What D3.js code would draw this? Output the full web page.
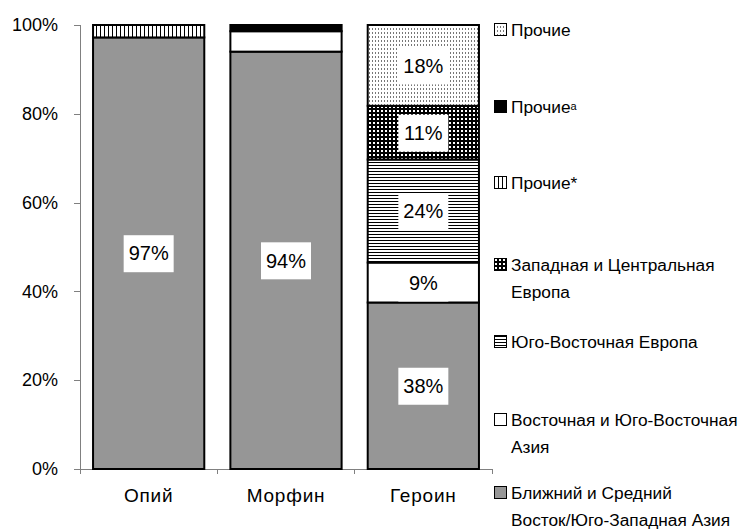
<!DOCTYPE html>
<html lang="ru">
<head>
    <meta charset="UTF-8">
    <title>Структура изъятий</title>
    <script src="https://cdnjs.cloudflare.com/ajax/libs/d3/7.8.5/d3.min.js"></script>
    <style>
        body { margin: 0; background: #fff; }
        text { font-family: Arial, "Liberation Sans", sans-serif; fill: #000; }
        .axis path, .axis line { stroke: #808080; shape-rendering: crispEdges; }
        .axis text { font-size: 18px; }
        .xaxis text { font-size: 19px; letter-spacing: 0.8px; }
    </style>
</head>
<body>
<script type="text/javascript">
    const width = 746;
    const height = 531;

    const categories = ["Опий", "Морфин", "Героин"];
    const yTicks = [0, 20, 40, 60, 80, 100];

    // series, bottom to top (%)
    const nearEast   = [97.2, 94.0, 37.5];
    const eastAsia   = [0, 4.6, 9.0];
    const seEurope   = [0, 0, 23.2];
    const westEurope = [0, 0, 12.1];
    const otherStar  = [2.8, 0, 0];
    const otherA     = [0, 1.4, 0];
    const other      = [0, 0, 18.2];

    // labels written on the bars
    const nearEastLabels   = ["97%", "94%", "38%"];
    const eastAsiaLabels   = ["", "", "9%"];
    const seEuropeLabels   = ["", "", "24%"];
    const westEuropeLabels = ["", "", "11%"];
    const otherLabels      = ["", "", "18%"];

    const series = [
        {key: "nearEast", values: nearEast, labels: nearEastLabels, fill: "#969696",
         name: ["Ближний и Средний", "Восток/Юго-Западная Азия"]},
        {key: "eastAsia", values: eastAsia, labels: eastAsiaLabels, fill: "#fff",
         name: ["Восточная и Юго-Восточная", "Азия"]},
        {key: "seEurope", values: seEurope, labels: seEuropeLabels, fill: "url(#hlines)",
         name: ["Юго-Восточная Европа"]},
        {key: "westEurope", values: westEurope, labels: westEuropeLabels, fill: "url(#checker)",
         name: ["Западная и Центральная", "Европа"]},
        {key: "otherStar", values: otherStar, labels: null, fill: "url(#vlines)",
         name: ["Прочие*"]},
        {key: "otherA", values: otherA, labels: null, fill: "#000",
         name: ["Прочие"], sup: "a"},
        {key: "other", values: other, labels: otherLabels, fill: "url(#dots)",
         name: ["Прочие"]}
    ];

    const table = categories.map(function(c, i) {
        const row = {category: c};
        series.forEach(function(s) { row[s.key] = s.values[i]; });
        return row;
    });

    const stacked = d3.stack().keys(series.map(s => s.key))(table);

    const x = d3.scaleBand()
        .domain(categories)
        .range([80, 492])
        .paddingInner(0.19)
        .paddingOuter(0.095);
    const y = d3.scaleLinear().domain([0, 100]).range([469, 25]);

    const svg = d3.select("body").append("svg")
        .attr("width", width)
        .attr("height", height);

    // patterns
    const defs = svg.append("defs");
    const vl = defs.append("pattern").attr("id", "vlines")
        .attr("patternUnits", "userSpaceOnUse").attr("width", 4).attr("height", 4);
    vl.append("rect").attr("width", 4).attr("height", 4).attr("fill", "#fff");
    vl.append("rect").attr("x", 0).attr("width", 1).attr("height", 4).attr("fill", "#000");

    const hl = defs.append("pattern").attr("id", "hlines")
        .attr("patternUnits", "userSpaceOnUse").attr("width", 4).attr("height", 3);
    hl.append("rect").attr("width", 4).attr("height", 3).attr("fill", "#fff");
    hl.append("rect").attr("y", 0).attr("width", 4).attr("height", 1).attr("fill", "#000");

    const ck = defs.append("pattern").attr("id", "checker")
        .attr("patternUnits", "userSpaceOnUse").attr("width", 4).attr("height", 4);
    ck.append("rect").attr("width", 4).attr("height", 4).attr("fill", "#000");
    ck.append("rect").attr("x", 1).attr("y", 2).attr("width", 2).attr("height", 2).attr("fill", "#fff");

    const dt = defs.append("pattern").attr("id", "dots")
        .attr("patternUnits", "userSpaceOnUse").attr("width", 3).attr("height", 4);
    dt.append("rect").attr("width", 3).attr("height", 4).attr("fill", "#fff");
    dt.append("rect").attr("x", 0).attr("y", 0).attr("width", 1).attr("height", 2).attr("fill", "#777");

    // y axis
    svg.append("g")
        .attr("class", "axis")
        .attr("transform", "translate(80,0)")
        .call(d3.axisLeft(y).tickValues(yTicks).tickSize(6).tickPadding(16)
            .tickFormat(d => d + "%"))
        .call(g => g.select(".domain").attr("d", "M0," + y(100) + "V" + y(0)));

    // x axis
    const xAxis = svg.append("g")
        .attr("class", "axis xaxis")
        .attr("transform", "translate(0,469)")
        .call(d3.axisBottom(x).tickSize(0).tickPadding(22))
        .call(g => g.select(".domain").attr("d", "M80,0H" + (80 + 3 * x.step())));
    xAxis.selectAll(".tick text").attr("dy", "0.6em");
    xAxis.selectAll(".bound")
        .data(d3.range(categories.length + 1))
        .enter().append("line")
        .attr("x1", i => 80 + i * x.step())
        .attr("x2", i => 80 + i * x.step())
        .attr("y1", 0).attr("y2", 5);

    // bars
    const layers = svg.append("g").selectAll("g")
        .data(stacked)
        .enter().append("g")
        .attr("fill", (d, i) => series[i].fill);

    layers.selectAll("rect")
        .data(d => d.filter(p => p[1] - p[0] > 0))
        .enter().append("rect")
        .attr("x", d => x(d.data.category))
        .attr("y", d => y(d[1]))
        .attr("width", x.bandwidth())
        .attr("height", d => y(d[0]) - y(d[1]))
        .attr("stroke", "#000")
        .attr("stroke-width", 2);

    // value labels
    const labelData = [];
    stacked.forEach(function(layer, si) {
        const labs = series[si].labels;
        if (!labs) return;
        layer.forEach(function(p, ci) {
            if (labs[ci]) labelData.push({p: p, text: labs[ci]});
        });
    });
    const lab = svg.append("g").selectAll("g")
        .data(labelData)
        .enter().append("g")
        .attr("transform", d => "translate(" + (x(d.p.data.category) + x.bandwidth() / 2) + ","
            + y((d.p[0] + d.p[1]) / 2) + ")");
    lab.append("rect")
        .attr("x", -25).attr("y", -18)
        .attr("width", 50).attr("height", 37)
        .attr("fill", "#fff");
    lab.append("text")
        .attr("text-anchor", "middle")
        .attr("dy", "0.36em")
        .attr("font-size", 20)
        .text(d => d.text);

    // legend, top to bottom
    const legendRows = [
        {s: series[6], y: 30},
        {s: series[5], y: 107},
        {s: series[4], y: 183},
        {s: series[3], y: 265},
        {s: series[2], y: 342},
        {s: series[1], y: 420},
        {s: series[0], y: 493}
    ];
    const leg = svg.append("g").selectAll("g")
        .data(legendRows)
        .enter().append("g")
        .attr("transform", d => "translate(494," + d.y + ")");
    leg.append("rect")
        .attr("x", 0.5).attr("y", -6.5)
        .attr("width", 12).attr("height", 12)
        .attr("fill", d => d.s.fill)
        .attr("stroke", "#000")
        .attr("stroke-width", 1);
    const lt = leg.append("text")
        .attr("x", 17)
        .attr("font-size", 17.3);
    lt.each(function(d) {
        const t = d3.select(this);
        d.s.name.forEach(function(line, i) {
            t.append("tspan")
                .attr("x", 17)
                .attr("y", i * 27)
                .attr("dy", "0.36em")
                .text(line);
        });
        if (d.s.sup) {
            t.append("tspan")
                .attr("dy", "-0.3em")
                .attr("font-size", 11)
                .text(d.s.sup);
        }
    });
</script>
</body>
</html>
